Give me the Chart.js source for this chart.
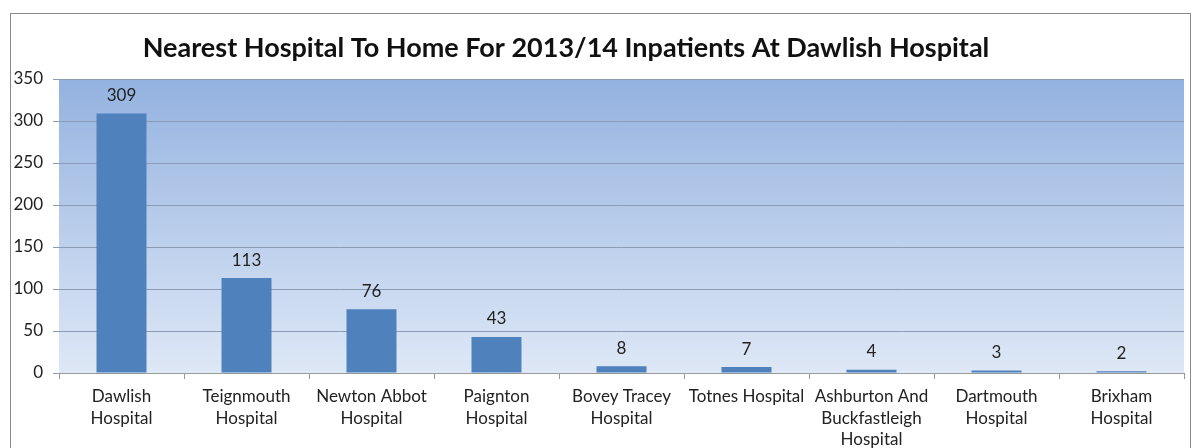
<!DOCTYPE html>
<html>
<head>
<meta charset="utf-8">
<script src="https://cdn.jsdelivr.net/npm/chart.js@4/dist/chart.umd.min.js"></script>
<style>
  html, body { margin: 0; padding: 0; background: #fff; }
  #wrap { width: 1198px; height: 448px; position: relative; }
</style>
</head>
<body>
<div id="wrap"><canvas id="chart"></canvas></div>
<script>
let chartTitle = 'Nearest Hospital To Home For 2013/14 Inpatients At Dawlish Hospital';
let hospitals = [
    ['Dawlish', 'Hospital'],
    ['Teignmouth', 'Hospital'],
    ['Newton Abbot', 'Hospital'],
    ['Paignton', 'Hospital'],
    ['Bovey Tracey', 'Hospital'],
    ['Totnes Hospital'],
    ['Ashburton And', 'Buckfastleigh', 'Hospital'],
    ['Dartmouth', 'Hospital'],
    ['Brixham', 'Hospital']
];
let inpatients = [309, 113, 76, 43, 8, 7, 4, 3, 2];
let yMax = 350;
let yStep = 50;

let font = 'Lato, "Liberation Sans", sans-serif';

// frame + gradient plot background
let backdrop = {
    id: 'backdrop',
    beforeDraw(chart) {
        let ctx = chart.ctx;
        let a = chart.chartArea;
        ctx.save();
        ctx.strokeStyle = '#8a8a8a';
        ctx.lineWidth = 1;
        ctx.strokeRect(10.5, 13.5, 1180, 460);
        let g = ctx.createLinearGradient(0, a.top, 0, a.bottom);
        g.addColorStop(0, 'rgb(148,178,224)');
        g.addColorStop(1, 'rgb(222,232,246)');
        ctx.fillStyle = g;
        ctx.fillRect(a.left, a.top, a.right - a.left, a.bottom - a.top);
        ctx.restore();
    },
    afterDraw(chart) {
        let ctx = chart.ctx;
        ctx.save();
        ctx.fillStyle = '#111';
        ctx.font = 'bold 27px ' + font;
        ctx.textAlign = 'center';
        ctx.textBaseline = 'middle';
        ctx.fillText(chartTitle, 566, 48);
        ctx.restore();
    }
};

// value labels over the bars
let valueLabels = {
    id: 'valueLabels',
    afterDatasetsDraw(chart) {
        let ctx = chart.ctx;
        let meta = chart.getDatasetMeta(0);
        ctx.save();
        ctx.fillStyle = '#222';
        ctx.font = '17px ' + font;
        ctx.textAlign = 'center';
        ctx.textBaseline = 'middle';
        meta.data.forEach((bar, i) => {
            ctx.fillText(chart.data.datasets[0].data[i], bar.x, bar.y - 18);
        });
        ctx.restore();
    }
};

new Chart(document.getElementById('chart'), {
    type: 'bar',
    data: {
        labels: hospitals,
        datasets: [{
            data: inpatients,
            backgroundColor: '#4f81bd',
            borderWidth: 0,
            barPercentage: 0.4,
            categoryPercentage: 1
        }]
    },
    options: {
        responsive: true,
        maintainAspectRatio: false,
        animation: false,
        layout: { padding: { left: 10, right: 14, top: 79, bottom: 0 } },
        plugins: {
            legend: { display: false },
            title: { display: false },
            tooltip: { enabled: false }
        },
        scales: {
            x: {
                afterFit(s) { s.height = 75; },
                grid: { drawOnChartArea: false, drawTicks: true, tickLength: 6, color: '#9a9a9a', offset: true },
                border: { color: '#9a9a9a' },
                ticks: { color: '#222', font: { family: font, size: 17, lineHeight: 1.27 }, padding: 7, maxRotation: 0, autoSkip: false }
            },
            y: {
                min: 0,
                max: yMax,
                afterFit(s) { s.width = 49; },
                ticks: { stepSize: yStep, color: '#222', font: { family: font, size: 17 }, padding: 10 },
                grid: { color: '#8b9bb3', tickLength: 6, drawTicks: true },
                border: { display: false }
            }
        }
    },
    plugins: [backdrop, valueLabels]
});
</script>
</body>
</html>
